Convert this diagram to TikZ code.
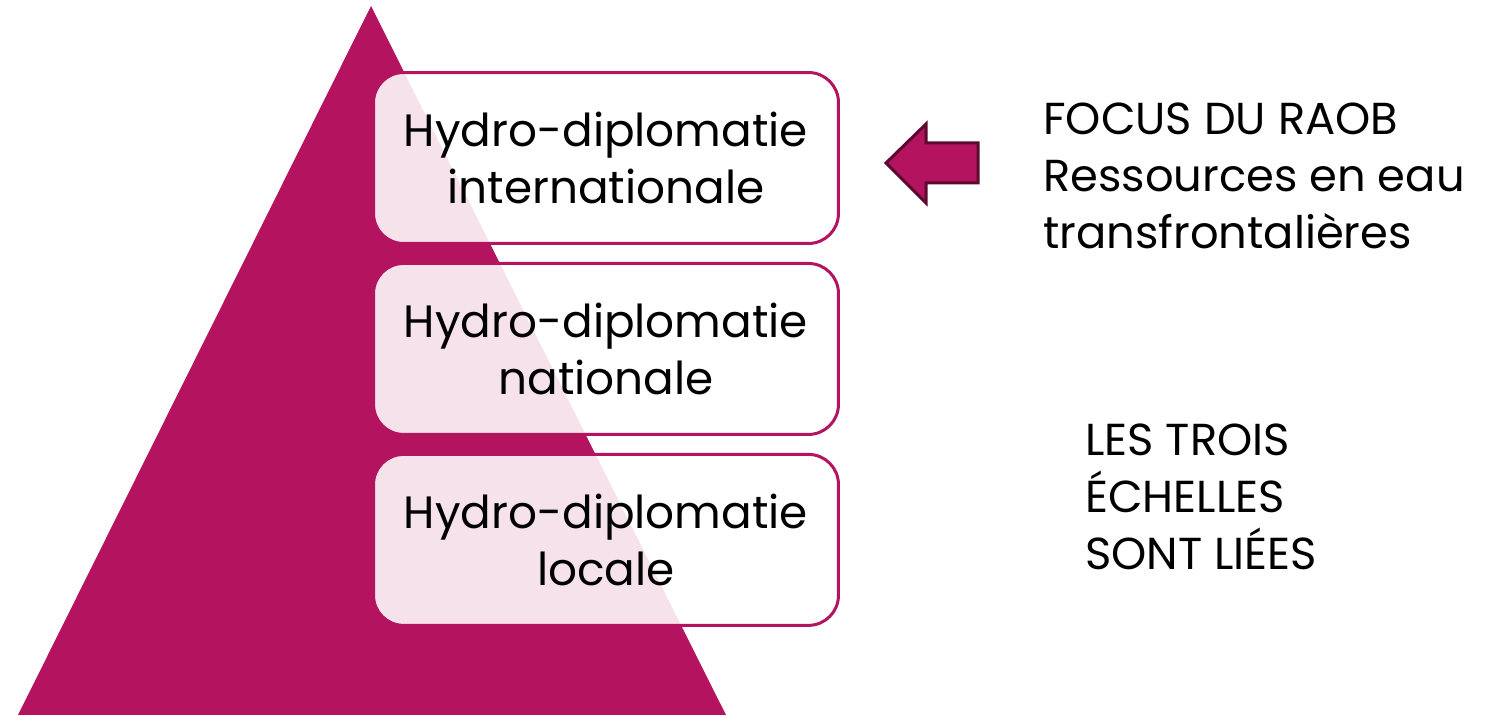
\documentclass[tikz,border=0pt]{standalone}
\usepackage{fontspec}
\setmainfont{Poppins}
\usetikzlibrary{positioning}
\definecolor{raobmagenta}{HTML}{B3135F}
\definecolor{raobdark}{HTML}{5C0A30}

\begin{document}
\begin{tikzpicture}[
    x=0.02cm, y=-0.02cm,
    node distance=0.34cm,
    echelon/.style={
        draw=raobmagenta,
        line width=1.7pt,
        fill=white,
        fill opacity=0.88,
        text opacity=1,
        rounded corners=0.6cm,
        minimum width=9.3cm,
        minimum height=3.42cm,
        align=center,
        font=\fontsize{25.8}{32.5}\selectfont
    },
    note/.style={
        inner sep=0pt,
        anchor=west,
        align=left,
        font=\fontsize{25.5}{32.5}\selectfont
    }
]

\useasboundingbox (0,0) rectangle (1488,715);

% pyramid
\fill[raobmagenta] (18,715) -- (371,6) -- (726,715) -- cycle;

% the three scales
\node[echelon] (inter) at (606,158) {Hydro-diplomatie\\internationale};
\node[echelon, below=of inter] (natio) {Hydro-diplomatie\\nationale};
\node[echelon, below=of natio] (locale) {Hydro-diplomatie\\locale};

% arrow towards the top level
\coordinate (pointe) at (886,163);
\draw[raobdark, fill=raobmagenta, line width=1.7pt, line join=miter]
    (pointe) -- (926,124) -- (926,143) -- (978,143) -- (978,183)
    -- (926,183) -- (926,203) -- cycle;

\node[note] (focus) at (1043,176)
    {FOCUS DU RAOB\\Ressources en eau\\transfrontalières};
\node[note] (liees) at (1085,497)
    {LES TROIS\\ÉCHELLES\\SONT LIÉES};

\end{tikzpicture}
\end{document}
